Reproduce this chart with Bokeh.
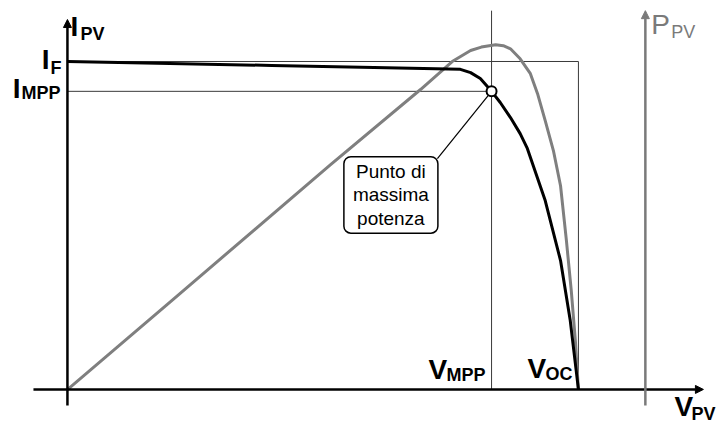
from bokeh.plotting import figure
from bokeh.models import Range1d, Arrow, NormalHead, Label
from bokeh.embed import file_html
from bokeh.resources import INLINE

# I-V characteristic of the PV module (V normalised to V_OC, I normalised to I_F)
v_curve = [0.0, 0.20, 0.40, 0.60, 0.769, 0.789, 0.808, 0.830, 0.847, 0.867,
           0.886, 0.900, 0.935, 0.965, 0.984, 1.0]
i_curve = [1.0, 0.994, 0.988, 0.982, 0.976, 0.966, 0.948, 0.909, 0.875, 0.829,
           0.780, 0.735, 0.576, 0.393, 0.210, 0.0]

# P-V characteristic (P normalised to its maximum)
v_power = [0.0, 0.215, 0.515, 0.691, 0.753, 0.789, 0.810, 0.838, 0.853, 0.867,
           0.886, 0.906, 0.920, 0.935, 0.951, 0.965, 0.9765, 0.986, 0.994, 1.0]
p_power = [0.0, 0.272, 0.652, 0.870, 0.951, 0.983, 0.993, 1.0, 0.997, 0.988,
           0.959, 0.916, 0.858, 0.780, 0.693, 0.591, 0.432, 0.287, 0.142, 0.0]

# characteristic points
I_F = 1.0
I_MPP = 0.909
V_MPP = 0.830
V_OC = 1.0

FONT = "Liberation Sans"

p = figure(width=721, height=425,
           x_range=Range1d(-0.131, 1.280), y_range=Range1d(-0.110, 1.186),
           output_backend="svg", toolbar_location=None,
           x_axis_type=None, y_axis_type=None, min_border=0)
p.extra_y_ranges = {"power": Range1d(-0.104, 1.128)}
p.grid.visible = False
p.outline_line_color = None
p.background_fill_color = "white"
p.border_fill_color = "white"

# construction lines
p.segment(x0=[0, V_OC, 0, V_MPP], y0=[I_F, 0, I_MPP, 0],
          x1=[V_OC, V_OC, V_MPP, V_MPP], y1=[I_F, I_F, I_MPP, 1.155],
          line_color="#3a3a3a", line_width=1)

# axes with arrow heads
p.add_layout(Arrow(end=NormalHead(size=8, fill_color="black", line_color="black", line_width=1),
                   x_start=0, y_start=-0.049, x_end=0, y_end=1.128,
                   line_color="black", line_width=2.5))
p.add_layout(Arrow(end=NormalHead(size=8, fill_color="black", line_color="black", line_width=1),
                   x_start=-0.0665, y_start=0, x_end=1.2446, y_end=0,
                   line_color="black", line_width=2.5))
p.add_layout(Arrow(end=NormalHead(size=8, fill_color="#7a7a7a", line_color="#7a7a7a", line_width=1),
                   x_start=1.131, y_start=-0.049, x_end=1.131, y_end=1.155,
                   line_color="#7a7a7a", line_width=2.5))

# curves
p.line(v_power, p_power, y_range_name="power", line_color="#7f7f7f", line_width=3,
       line_join="round")
p.line(v_curve, i_curve, line_color="black", line_width=3, line_join="round")

# callout for the maximum power point
callout = Label(x=0.633, y=0.593, text="Punto di\nmassima\npotenza",
                text_align="center", text_baseline="middle", text_color="black",
                text_font=FONT, text_font_size="19px", text_line_height=1.13,
                background_fill_color="white", border_line_color="black",
                border_line_width=1.5, border_radius=7,
                padding=dict(left=9, right=9, top=4, bottom=4))
p.add_layout(callout)
p.segment(x0=[0.724], y0=[0.704], x1=[V_MPP], y1=[I_MPP], line_color="black", line_width=1.2)
p.scatter([V_MPP], [I_MPP], size=10, fill_color="white", line_color="black", line_width=2)


def label(x, y, text, size, dx, dy, align="left", color="black", style="bold"):
    p.add_layout(Label(x=x, y=y, x_offset=dx, y_offset=dy, text=text,
                       text_font=FONT, text_font_size=f"{size}px",
                       text_font_style=style, text_color=color,
                       text_align=align, text_baseline="alphabetic"))


BIG, SUB = 28, 18
# I_PV
label(0, 1.128, "I", BIG, 3, -7)
label(0, 1.128, "PV", SUB, 13, -14)
# I_F
label(0, I_F, "I", BIG, -18, 2, align="right")
label(0, I_F, "F", SUB, -17, -7)
# I_MPP
label(0, I_MPP, "I", BIG, -47, 3, align="right")
label(0, I_MPP, "MPP", SUB, -46, -2)
# V_MPP
label(V_MPP, 0, "V", BIG, -63, 20)
label(V_MPP, 0, "MPP", SUB, -45, 14)
# V_OC
label(V_OC, 0, "V", BIG, -51, 21)
label(V_OC, 0, "OC", SUB, -33, 15)
# V_PV
label(1.2446, 0, "V", BIG, -29, -17)
label(1.2446, 0, "PV", SUB, -12, -25)
# P_PV
label(1.131, 1.155, "P", BIG, 6, -14, color="#7a7a7a", style="normal")
label(1.131, 1.155, "PV", SUB, 26, -21, color="#7a7a7a", style="normal")

open("out.html", "w").write(file_html(p, INLINE))
